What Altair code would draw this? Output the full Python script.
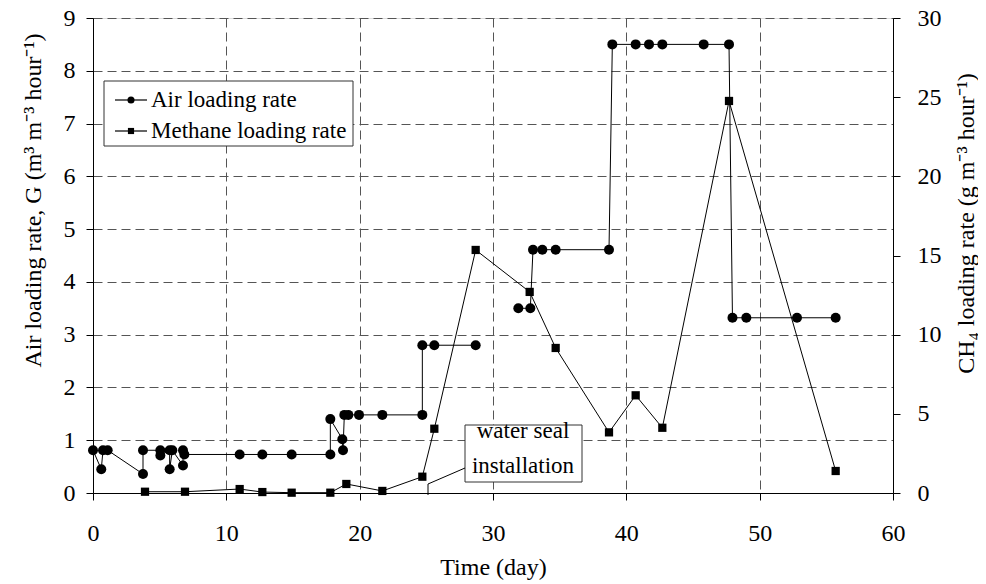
import altair as alt
import pandas as pd

# ---- data ----
air_day = [0.0, 0.62, 0.75, 1.1, 3.75, 3.75, 5.05, 5.05, 5.75, 5.75, 5.95, 6.75, 6.75, 6.85,
           11.0, 12.7, 14.9, 17.8, 17.8, 18.7, 18.75, 18.85, 19.15, 19.95, 21.7, 24.7, 24.7, 25.6, 28.7,
           31.9, 32.8, 33.0, 33.7, 34.7, 38.7, 38.95, 40.7, 41.7, 42.7, 45.8, 47.7, 47.96, 49.0, 52.8, 55.7]
air_rate = [0.81, 0.45, 0.81, 0.81, 0.36, 0.81, 0.81, 0.71, 0.81, 0.45, 0.81, 0.52, 0.81, 0.73,
            0.73, 0.73, 0.73, 0.73, 1.40, 1.02, 0.81, 1.48, 1.48, 1.48, 1.48, 1.48, 2.80, 2.80, 2.80,
            3.50, 3.50, 4.61, 4.61, 4.61, 4.61, 8.50, 8.50, 8.50, 8.50, 8.50, 8.50, 3.32, 3.32, 3.32, 3.32]
air_seg = [1] * 29 + [2] * 16

ch4_day = [3.9, 6.9, 11.0, 12.7, 14.9, 17.8, 19.0, 21.7, 24.7, 25.6, 28.7, 32.75, 34.7, 38.7,
           40.7, 42.7, 47.7, 55.7]
ch4_rate = [0.08, 0.08, 0.25, 0.06, 0.02, 0.02, 0.57, 0.13, 1.03, 4.06, 15.35, 12.7, 9.16, 3.83,
            6.17, 4.12, 24.76, 1.39]

x_ticks = [0, 10, 20, 30, 40, 50, 60]
left_ticks = [0, 1, 2, 3, 4, 5, 6, 7, 8, 9]
right_ticks = [0, 5, 10, 15, 20, 25, 30]

legend_labels = ["Air loading rate", "Methane loading rate"]
note_lines = ["water seal", "installation"]

FONT = "Liberation Serif"
FS = 24      # tick labels and axis titles
FS2 = 23     # legend and note
GRID = "#555555"

air_df = pd.DataFrame({"day": air_day, "rate": air_rate, "seg": air_seg})
ch4_df = pd.DataFrame({"day": ch4_day, "rate": ch4_rate})
one = pd.DataFrame({"k": [0]})

common = dict(domainColor="black", tickColor="black", tickSize=7, labelFont=FONT, labelFontSize=FS,
              labelColor="black", labelFlush=False, labelOverlap=False, titleFont=FONT, titleFontSize=FS,
              titleFontWeight="normal", titleColor="black")

x_enc = alt.X(
    "day:Q",
    scale=alt.Scale(domain=[0, 60], nice=False, zero=False),
    axis=alt.Axis(values=x_ticks, title="Time (day)", grid=True, gridDash=[9, 5], gridColor=GRID,
                  gridWidth=1, labelPadding=21, titleX=400, titleY=81, titleAlign="center",
                  titleBaseline="alphabetic", **common),
)

yl = alt.Y(
    "rate:Q",
    scale=alt.Scale(domain=[0, 9], nice=False),
    axis=alt.Axis(orient="left", values=left_ticks, title="Air loading rate, G (m³ m⁻³ hour⁻¹)",
                  grid=True, gridDash=[9, 5], gridColor=GRID, gridWidth=1, labelPadding=11,
                  titleX=-60, titleY=182, titleAngle=270, titleAlign="center", titleBaseline="middle",
                  **common),
)

yr = alt.Y(
    "rate:Q",
    scale=alt.Scale(domain=[0, 30], nice=False),
    axis=alt.Axis(orient="right", values=right_ticks, title="CH₄ loading rate (g m⁻³ hour⁻¹)",
                  grid=False, labelPadding=17, titleX=73, titleY=205, titleAngle=270,
                  titleAlign="center", titleBaseline="middle", **common),
)

air_line = alt.Chart(air_df).mark_line(color="black", strokeWidth=1).encode(x=x_enc, y=yl, detail="seg:N")
air_pts = alt.Chart(air_df).mark_point(shape="circle", filled=True, size=100, color="black", opacity=1).encode(x=x_enc, y=yl)
air = alt.layer(air_line, air_pts)

ch4_line = alt.Chart(ch4_df).mark_line(color="black", strokeWidth=1).encode(x=x_enc, y=yr)
ch4_pts = alt.Chart(ch4_df).mark_point(shape="square", filled=True, size=68, color="black", opacity=1).encode(x=x_enc, y=yr)
ch4 = alt.layer(ch4_line, ch4_pts)

# legend box
leg_box = alt.Chart(one).mark_rect(fill="white", stroke="#333333", strokeWidth=1).encode(
    x=alt.value(11), x2=alt.value(260), y=alt.value(63), y2=alt.value(128))
leg_r1 = alt.Chart(one).mark_rule(color="black", strokeWidth=1.2).encode(
    x=alt.value(22), x2=alt.value(54), y=alt.value(82))
leg_r2 = alt.Chart(one).mark_rule(color="black", strokeWidth=1.2).encode(
    x=alt.value(22), x2=alt.value(54), y=alt.value(113))
leg_p1 = alt.Chart(one).mark_point(shape="circle", filled=True, size=50, color="black", opacity=1).encode(
    x=alt.value(38), y=alt.value(82))
leg_p2 = alt.Chart(one).mark_point(shape="square", filled=True, size=38, color="black", opacity=1).encode(
    x=alt.value(38), y=alt.value(113))
leg_t1 = alt.Chart(one).mark_text(align="left", baseline="alphabetic", font=FONT, fontSize=FS2, color="black").encode(
    x=alt.value(58), y=alt.value(89), text=alt.value(legend_labels[0]))
leg_t2 = alt.Chart(one).mark_text(align="left", baseline="alphabetic", font=FONT, fontSize=FS2, color="black").encode(
    x=alt.value(58), y=alt.value(120), text=alt.value(legend_labels[1]))

# annotation
note_box = alt.Chart(one).mark_rect(fill="white", stroke="#333333", strokeWidth=1).encode(
    x=alt.value(372), x2=alt.value(489), y=alt.value(407), y2=alt.value(464))
note_t1 = alt.Chart(one).mark_text(align="center", baseline="alphabetic", font=FONT, fontSize=FS2, color="black").encode(
    x=alt.value(430), y=alt.value(420), text=alt.value(note_lines[0]))
note_t2 = alt.Chart(one).mark_text(align="center", baseline="alphabetic", font=FONT, fontSize=FS2, color="black").encode(
    x=alt.value(430), y=alt.value(455), text=alt.value(note_lines[1]))
lead1 = alt.Chart(one).mark_rule(color="black", strokeWidth=1).encode(
    x=alt.value(372), y=alt.value(450), x2=alt.value(335), y2=alt.value(466))
lead2 = alt.Chart(one).mark_rule(color="black", strokeWidth=1).encode(
    x=alt.value(335), y=alt.value(466), x2=alt.value(335), y2=alt.value(477))

chart = alt.layer(
    air, ch4, leg_box, leg_r1, leg_r2, leg_p1, leg_p2, leg_t1, leg_t2,
    note_box, note_t1, note_t2, lead1, lead2
).resolve_scale(y="independent").properties(
    width=800, height=475,
    autosize=alt.AutoSizeParams(type="none"),
    padding={"left": 85, "top": 10, "right": 85, "bottom": 90},
).configure_view(stroke="black", strokeWidth=1).configure(background="white")

chart.save("out.html", embed_options={"renderer": "svg", "actions": False})
